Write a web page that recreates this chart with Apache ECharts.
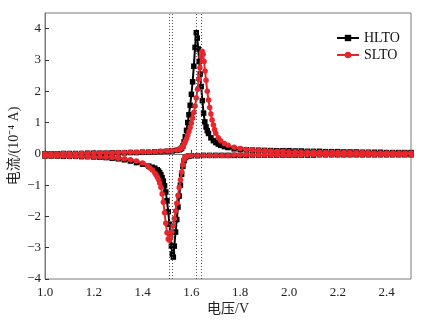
<!DOCTYPE html>
<html>
<head>
<meta charset="utf-8">
<script src="https://cdn.jsdelivr.net/npm/echarts@6/dist/echarts.min.js"></script>
<style>
  html, body { margin: 0; padding: 0; background: #fff; }
  #chart { width: 426px; height: 323px; }
</style>
</head>
<body>
<div id="chart"></div>
<script>
// Cyclic voltammograms: potential (V) vs current (10^-4 A)
const seriesNames = ['HLTO', 'SLTO'];

// HLTO, anodic sweep 1.0 -> 2.5 V
const hltoAnodic = [
  [1.000,0.00],[1.025,0.00],[1.050,0.00],[1.075,0.01],[1.100,0.01],[1.125,0.01],[1.150,0.01],[1.175,0.02],
  [1.200,0.02],[1.225,0.02],[1.250,0.02],[1.275,0.03],[1.300,0.03],[1.325,0.03],[1.350,0.04],[1.375,0.04],
  [1.400,0.05],[1.425,0.05],[1.450,0.06],[1.475,0.07],[1.500,0.08],[1.520,0.09],[1.540,0.11],[1.550,0.13],
  [1.555,0.15],[1.560,0.18],[1.565,0.25],[1.570,0.38],[1.575,0.55],[1.580,0.75],[1.585,1.00],[1.590,1.25],
  [1.595,1.55],[1.600,1.90],[1.605,2.30],[1.610,2.80],[1.615,3.40],[1.620,3.87],[1.624,3.70],[1.628,3.35],
  [1.632,2.95],[1.636,2.55],[1.640,2.15],[1.645,1.70],[1.650,1.30],[1.655,1.02],[1.660,0.86],[1.665,0.74],
  [1.670,0.65],[1.680,0.51],[1.690,0.42],[1.700,0.36],[1.710,0.31],[1.720,0.27],[1.735,0.23],[1.750,0.20],
  [1.775,0.16],[1.800,0.14],[1.825,0.13],[1.850,0.12],[1.875,0.115],[1.900,0.11],[1.925,0.105],[1.950,0.10],
  [1.975,0.10],[2.000,0.10],[2.025,0.09],[2.050,0.09],[2.075,0.08],[2.100,0.08],[2.125,0.08],[2.150,0.07],
  [2.175,0.07],[2.200,0.07],[2.225,0.06],[2.250,0.06],[2.275,0.06],[2.300,0.05],[2.325,0.05],[2.350,0.05],
  [2.375,0.05],[2.400,0.04],[2.425,0.04],[2.450,0.04],[2.475,0.04],[2.500,0.04]
];

// HLTO, cathodic sweep 2.5 -> 1.0 V
const hltoCathodic = [
  [2.500,-0.03],[2.475,-0.03],[2.450,-0.03],[2.425,-0.03],[2.400,-0.03],[2.375,-0.03],[2.350,-0.03],[2.325,-0.03],
  [2.300,-0.03],[2.275,-0.03],[2.250,-0.03],[2.225,-0.03],[2.200,-0.03],[2.175,-0.03],[2.150,-0.03],[2.125,-0.03],
  [2.100,-0.04],[2.075,-0.04],[2.050,-0.04],[2.025,-0.04],[2.000,-0.04],[1.975,-0.04],[1.950,-0.04],[1.925,-0.04],
  [1.900,-0.04],[1.875,-0.04],[1.850,-0.04],[1.825,-0.05],[1.800,-0.05],[1.775,-0.05],[1.750,-0.05],[1.725,-0.05],
  [1.700,-0.05],[1.675,-0.05],[1.650,-0.05],[1.625,-0.06],[1.600,-0.06],[1.590,-0.07],[1.580,-0.09],[1.575,-0.12],
  [1.570,-0.22],[1.565,-0.40],[1.560,-0.65],[1.555,-1.00],[1.550,-1.35],[1.545,-1.70],[1.540,-2.10],[1.535,-2.50],
  [1.530,-2.95],[1.526,-3.30],[1.522,-3.20],[1.518,-2.95],[1.514,-2.60],[1.510,-2.25],[1.505,-1.85],[1.500,-1.50],
  [1.495,-1.22],[1.490,-1.02],[1.485,-0.87],[1.480,-0.76],[1.475,-0.67],[1.470,-0.60],[1.465,-0.55],[1.460,-0.51],
  [1.450,-0.46],[1.440,-0.43],[1.425,-0.39],[1.400,-0.33],[1.375,-0.28],[1.350,-0.23],[1.325,-0.19],[1.300,-0.16],
  [1.275,-0.14],[1.250,-0.12],[1.225,-0.11],[1.200,-0.10],[1.175,-0.09],[1.150,-0.09],[1.125,-0.08],[1.100,-0.08],
  [1.075,-0.08],[1.050,-0.07],[1.025,-0.07],[1.000,-0.07]
];

// SLTO, anodic sweep 1.0 -> 2.5 V
const sltoAnodic = [
  [1.000,0.00],[1.025,0.00],[1.050,0.00],[1.075,0.01],[1.100,0.01],[1.125,0.01],[1.150,0.02],[1.175,0.02],
  [1.200,0.02],[1.225,0.03],[1.250,0.03],[1.275,0.03],[1.300,0.04],[1.325,0.04],[1.350,0.05],[1.375,0.05],
  [1.400,0.06],[1.425,0.06],[1.450,0.07],[1.475,0.08],[1.500,0.09],[1.520,0.10],[1.540,0.12],[1.550,0.14],
  [1.555,0.16],[1.560,0.19],[1.565,0.24],[1.570,0.31],[1.575,0.39],[1.580,0.48],[1.585,0.59],[1.590,0.71],
  [1.595,0.84],[1.600,0.98],[1.605,1.14],[1.610,1.32],[1.615,1.53],[1.620,1.78],[1.625,2.06],[1.630,2.38],
  [1.635,2.75],[1.640,3.10],[1.644,3.28],[1.648,3.18],[1.652,2.95],[1.656,2.65],[1.660,2.35],[1.665,2.00],
  [1.670,1.72],[1.675,1.48],[1.680,1.27],[1.685,1.08],[1.690,0.92],[1.695,0.78],[1.700,0.66],[1.710,0.51],
  [1.720,0.42],[1.735,0.33],[1.750,0.27],[1.775,0.21],[1.800,0.17],[1.825,0.14],[1.850,0.12],[1.875,0.11],
  [1.900,0.10],[1.925,0.09],[1.950,0.08],[1.975,0.08],[2.000,0.07],[2.025,0.07],[2.050,0.06],[2.075,0.06],
  [2.100,0.06],[2.125,0.05],[2.150,0.05],[2.175,0.05],[2.200,0.05],[2.225,0.04],[2.250,0.04],[2.275,0.04],
  [2.300,0.04],[2.325,0.04],[2.350,0.03],[2.375,0.03],[2.400,0.03],[2.425,0.03],[2.450,0.03],[2.475,0.03],
  [2.500,0.03]
];

// SLTO, cathodic sweep 2.5 -> 1.0 V
const sltoCathodic = [
  [2.500,-0.03],[2.475,-0.03],[2.450,-0.03],[2.425,-0.03],[2.400,-0.03],[2.375,-0.03],[2.350,-0.03],[2.325,-0.03],
  [2.300,-0.03],[2.275,-0.03],[2.250,-0.03],[2.225,-0.03],[2.200,-0.03],[2.175,-0.03],[2.150,-0.03],[2.125,-0.03],
  [2.100,-0.03],[2.075,-0.03],[2.050,-0.04],[2.025,-0.04],[2.000,-0.04],[1.975,-0.04],[1.950,-0.04],[1.925,-0.04],
  [1.900,-0.04],[1.875,-0.04],[1.850,-0.04],[1.825,-0.04],[1.800,-0.04],[1.775,-0.04],[1.750,-0.05],[1.725,-0.05],
  [1.700,-0.05],[1.675,-0.05],[1.650,-0.05],[1.625,-0.05],[1.600,-0.05],[1.590,-0.06],[1.580,-0.08],[1.575,-0.10],
  [1.570,-0.18],[1.565,-0.35],[1.560,-0.58],[1.555,-0.83],[1.550,-1.08],[1.545,-1.33],[1.540,-1.58],[1.535,-1.83],
  [1.530,-2.07],[1.525,-2.30],[1.520,-2.50],[1.515,-2.66],[1.510,-2.76],[1.505,-2.72],[1.500,-2.52],[1.495,-2.22],
  [1.490,-1.88],[1.485,-1.55],[1.480,-1.28],[1.475,-1.07],[1.470,-0.93],[1.465,-0.82],[1.460,-0.74],[1.455,-0.67],
  [1.450,-0.61],[1.440,-0.52],[1.430,-0.45],[1.420,-0.38],[1.400,-0.29],[1.375,-0.23],[1.350,-0.19],[1.325,-0.16],
  [1.300,-0.14],[1.275,-0.12],[1.250,-0.11],[1.225,-0.10],[1.200,-0.09],[1.175,-0.09],[1.150,-0.08],[1.125,-0.08],
  [1.100,-0.08],[1.075,-0.07],[1.050,-0.07],[1.025,-0.07],[1.000,-0.07]
];

// Reference potentials of the redox peaks (dotted guides)
const peakPotentials = [1.510, 1.525, 1.622, 1.638];

// Tick positions
const xTicks = [1.0, 1.2, 1.4, 1.6, 1.8, 2.0, 2.2, 2.4];
const yTicks = [-4, -3, -2, -1, 0, 1, 2, 3, 4];

const FONT = '"Liberation Serif", "Times New Roman", "Noto Sans CJK SC", serif';
const AXIS_GREY = '#7a7a7a';

const chart = echarts.init(document.getElementById('chart'), null, { renderer: 'canvas' });

const option = {
  animation: false,
  backgroundColor: '#fff',
  grid: {
    left: 45, right: 15, top: 13, bottom: 44,
    containLabel: false,
    outerBoundsMode: 'none',
    show: true, borderColor: AXIS_GREY, borderWidth: 1, backgroundColor: 'transparent'
  },
  legend: {
    orient: 'vertical',
    left: 331, top: 26,
    itemWidth: 22, itemHeight: 8, itemGap: 3,
    textStyle: { fontFamily: FONT, fontSize: 14, color: '#111' },
    data: seriesNames
  },
  xAxis: {
    type: 'value',
    min: 1.0, max: 2.5, interval: 0.2,
    name: '电压/V',
    nameLocation: 'middle',
    nameGap: 23,
    nameMoveOverlap: false,
    nameTextStyle: { fontFamily: FONT, fontSize: 14, color: '#222' },
    axisLine: { show: true, lineStyle: { color: AXIS_GREY, width: 1 } },
    axisTick: { show: true, inside: true, length: 4, customValues: xTicks, lineStyle: { color: '#333' } },
    axisLabel: {
      customValues: xTicks,
      formatter: v => v.toFixed(1),
      margin: 7,
      fontFamily: FONT, fontSize: 13, color: '#222'
    },
    splitLine: { show: false }
  },
  yAxis: {
    type: 'value',
    min: -4, max: 4.5, interval: 1,
    name: '电流/(10⁻⁴ A)',
    nameLocation: 'middle',
    nameGap: 24,
    nameMoveOverlap: false,
    nameTextStyle: { fontFamily: FONT, fontSize: 14, color: '#222' },
    axisLine: { show: true, lineStyle: { color: AXIS_GREY, width: 1 } },
    axisTick: { show: true, inside: true, length: 4, customValues: yTicks, lineStyle: { color: '#333' } },
    axisLabel: {
      customValues: yTicks,
      formatter: v => (v < 0 ? '\u2212' + Math.abs(v) : String(v)),
      margin: 4,
      fontFamily: FONT, fontSize: 13, color: '#222'
    },
    splitLine: { show: false }
  },
  series: [
    {
      name: 'HLTO',
      type: 'line',
      data: hltoAnodic.concat(hltoCathodic),
      symbol: 'rect',
      symbolSize: 5.5,
      showSymbol: true,
      showAllSymbol: true,
      color: '#000',
      lineStyle: { color: '#000', width: 2 },
      itemStyle: { color: '#000' },
      z: 2,
      markLine: {
        silent: true,
        symbol: 'none',
        label: { show: false },
        lineStyle: { type: [1, 2], color: '#555', width: 1 },
        data: peakPotentials.map(v => ({ xAxis: v }))
      }
    },
    {
      name: 'SLTO',
      type: 'line',
      data: sltoAnodic.concat(sltoCathodic),
      symbol: 'circle',
      symbolSize: 5.5,
      showSymbol: true,
      showAllSymbol: true,
      color: '#e8262b',
      lineStyle: { color: '#e8262b', width: 2 },
      itemStyle: { color: '#e8262b' },
      z: 3
    }
  ]
};

chart.setOption(option);
</script>
</body>
</html>
